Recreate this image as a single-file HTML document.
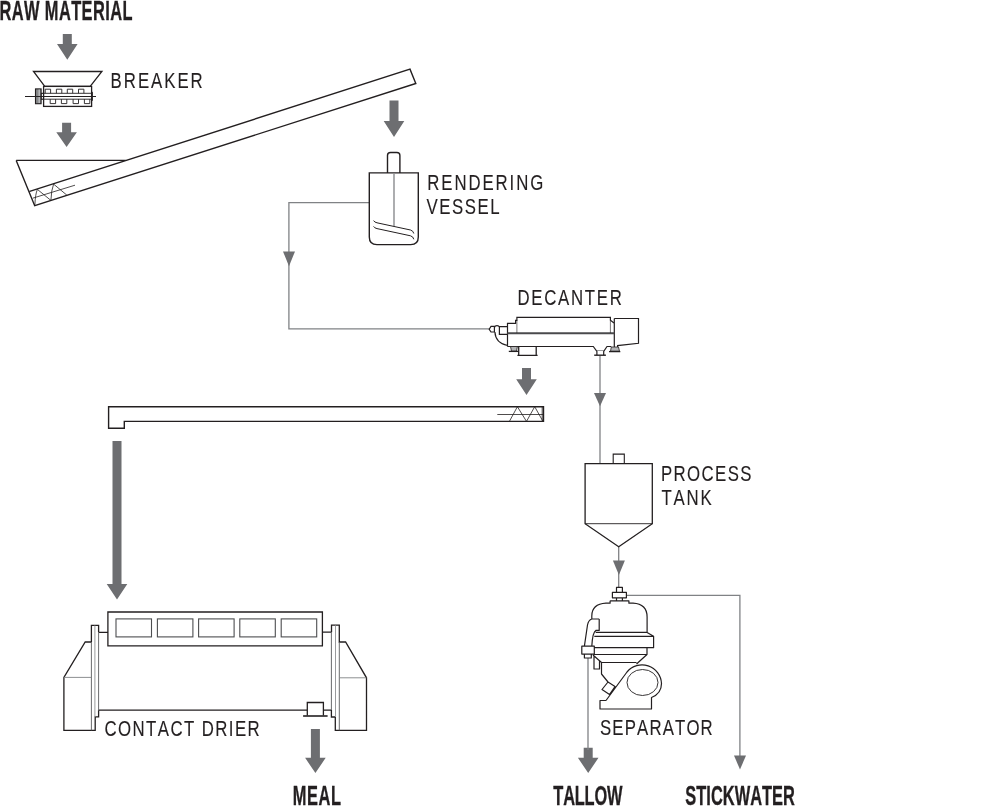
<!DOCTYPE html>
<html><head><meta charset="utf-8"><style>
html,body{margin:0;padding:0;background:#fff;}
svg{display:block;font-kerning:none;will-change:transform;font-family:"Liberation Sans",sans-serif;}
</style></head><body>
<svg width="1000" height="810" viewBox="0 0 1000 810">
<text transform="translate(-0.50 19.7) scale(0.61 1)" letter-spacing="0.669" font-size="26.9" font-weight="700" fill="#231f20" stroke="#231f20" stroke-width="0.35">RAW MATERIAL</text>
<text transform="translate(110.62 87.8) scale(0.778 1)" letter-spacing="2.537" font-size="21.6" font-weight="400" fill="#231f20" stroke="#231f20" stroke-width="0.12">BREAKER</text>
<text transform="translate(427.32 189.8) scale(0.778 1)" letter-spacing="2.426" font-size="21.6" font-weight="400" fill="#231f20" stroke="#231f20" stroke-width="0.12">RENDERING</text>
<text transform="translate(426.53 213.9) scale(0.778 1)" letter-spacing="1.965" font-size="21.6" font-weight="400" fill="#231f20" stroke="#231f20" stroke-width="0.12">VESSEL</text>
<text transform="translate(517.42 305) scale(0.778 1)" letter-spacing="2.208" font-size="21.6" font-weight="400" fill="#231f20" stroke="#231f20" stroke-width="0.12">DECANTER</text>
<text transform="translate(661.02 481) scale(0.778 1)" letter-spacing="1.772" font-size="21.6" font-weight="400" fill="#231f20" stroke="#231f20" stroke-width="0.12">PROCESS</text>
<text transform="translate(661.52 505) scale(0.778 1)" letter-spacing="2.334" font-size="21.6" font-weight="400" fill="#231f20" stroke="#231f20" stroke-width="0.12">TANK</text>
<text transform="translate(104.55 736) scale(0.778 1)" letter-spacing="1.817" font-size="21.6" font-weight="400" fill="#231f20" stroke="#231f20" stroke-width="0.12">CONTACT DRIER</text>
<text transform="translate(599.99 735.1) scale(0.778 1)" letter-spacing="1.469" font-size="21.6" font-weight="400" fill="#231f20" stroke="#231f20" stroke-width="0.12">SEPARATOR</text>
<text transform="translate(292.80 804.5) scale(0.61 1)" letter-spacing="0.992" font-size="26.9" font-weight="700" fill="#231f20" stroke="#231f20" stroke-width="0.35">MEAL</text>
<text transform="translate(553.32 804.5) scale(0.61 1)" letter-spacing="-0.318" font-size="26.9" font-weight="700" fill="#231f20" stroke="#231f20" stroke-width="0.35">TALLOW</text>
<text transform="translate(685.33 804.5) scale(0.61 1)" letter-spacing="0.041" font-size="26.9" font-weight="700" fill="#231f20" stroke="#231f20" stroke-width="0.35">STICKWATER</text>
<path d="M62.8 34.1H71.8V44H77.6L67.3 59.8L57.0 44H62.8Z" fill="#6d6e71"/>
<path d="M62.099999999999994 122.65H71.1V132.2H76.89999999999999L66.6 147L56.3 132.2H62.099999999999994Z" fill="#6d6e71"/>
<path d="M389.5 100.5H398.5V121H404.3L394 137L383.7 121H389.5Z" fill="#6d6e71"/>
<path d="M522.0 367.9H531.0V379.25H536.8L526.5 395L516.2 379.25H522.0Z" fill="#6d6e71"/>
<path d="M112.5 441.1H121.5V584.1H127.3L117 599.5L106.7 584.1H112.5Z" fill="#6d6e71"/>
<path d="M310.9 728.9H319.9V757.8H325.7L315.4 773.1L305.09999999999997 757.8H310.9Z" fill="#6d6e71"/>
<path d="M583.7 747.8H592.7V757.8H598.5L588.2 773L577.9000000000001 757.8H583.7Z" fill="#6d6e71"/>
<path d="M369.5 202.7H288.9V328.9H490" fill="none" stroke="#808285" stroke-width="1.3"/>
<path d="M283 251.4H295L289 266.3Z" fill="#6d6e71"/>
<path d="M600 356V463.7" fill="none" stroke="#808285" stroke-width="1.3"/>
<path d="M596.9 350.5H603.7" stroke="#808285" stroke-width="0.8"/>
<path d="M594 393H606L600 406.3Z" fill="#6d6e71"/>
<path d="M618.7 546.7V588" fill="none" stroke="#808285" stroke-width="1.3"/>
<path d="M612.9 560.4H624.9L618.9 575Z" fill="#6d6e71"/>
<path d="M626.4 595.3H739.9V758" fill="none" stroke="#808285" stroke-width="1.3"/>
<path d="M734 755.4H746L740 769.6Z" fill="#6d6e71"/>
<path d="M588 658V750" fill="none" stroke="#808285" stroke-width="1.3"/>
<path d="M33.5 71.5H101.9L90.2 86.3H44.75Z" fill="none" stroke="#231f20" stroke-width="1.3" stroke-linejoin="miter"/>
<rect x="43.6" y="86.4" width="48" height="20" fill="none" stroke="#231f20" stroke-width="1.3"/>
<rect x="35.5" y="88.9" width="5.6" height="14.8" fill="#858688" stroke="#231f20" stroke-width="1.1"/><path d="M39.2 89.5V103" stroke="#c4c5c7" stroke-width="1.2"/><rect x="41.2" y="93.3" width="2.4" height="5.9" fill="none" stroke="#231f20" stroke-width="0.7"/>
<path d="M25 96.5H96" stroke="#231f20" stroke-width="1"/>
<path d="M41 93.3H92M41 99.2H92" stroke="#231f20" stroke-width="0.9"/>
<path d="M45.2 93.3V89.2H50.6V93.3" fill="none" stroke="#231f20" stroke-width="0.9"/>
<path d="M56.4 93.3V89.2H61.8V93.3" fill="none" stroke="#231f20" stroke-width="0.9"/>
<path d="M67.3 93.3V89.2H72.7V93.3" fill="none" stroke="#231f20" stroke-width="0.9"/>
<path d="M78.5 93.3V89.2H83.9V93.3" fill="none" stroke="#231f20" stroke-width="0.9"/>
<path d="M50.2 99.2V103.6H55.6V99.2" fill="none" stroke="#231f20" stroke-width="0.9"/>
<path d="M61.4 99.2V103.6H66.8V99.2" fill="none" stroke="#231f20" stroke-width="0.9"/>
<path d="M73.1 99.2V103.6H78.5V99.2" fill="none" stroke="#231f20" stroke-width="0.9"/>
<path d="M84.4 99.2V103.6H89.80000000000001V99.2" fill="none" stroke="#231f20" stroke-width="0.9"/>
<path d="M91.6 92.2h0.9v8.3h-0.9" fill="none" stroke="#231f20" stroke-width="0.9"/>
<path d="M16.2 160.4H125.7" stroke="#231f20" stroke-width="1.4"/>
<path d="M16.2 160.4L34.7 205.7L415.8 83.5L410 69.2L29.7 191.4" fill="none" stroke="#231f20" stroke-width="1.4" stroke-linejoin="miter"/>
<path d="M32.7 198.2L75 185.2" stroke="#231f20" stroke-width="0.8"/>
<path d="M34.9 204.8Q35.3 194 37.4 189.4L50.9 200.4Q51.3 190 53.6 184.1L66.8 195.1" fill="none" stroke="#231f20" stroke-width="0.8"/>
<path d="M369.3 172.9H418.3V237Q418.3 244.6 410.7 244.6H376.9Q369.3 244.6 369.3 237Z" fill="none" stroke="#231f20" stroke-width="1.4"/>
<path d="M387.5 172.9V155.5Q387.5 152.5 390.5 152.5H396.9Q399.9 152.5 399.9 155.5V172.9" fill="none" stroke="#231f20" stroke-width="1.4"/>
<path d="M394 174V226" stroke="#808285" stroke-width="1.3"/>
<path d="M373.6 220.6Q374.5 222.3 377 222.8L410.5 230Q413.3 230.8 413.8 233.5" fill="none" stroke="#231f20" stroke-width="1"/>
<path d="M373.6 226.4Q374.5 228.1 377 228.6L410.5 235.8Q413.3 236.6 413.8 239.3" fill="none" stroke="#231f20" stroke-width="1"/>
<path d="M489.2 329.2L491 326.4H494.4V332H491Z M494.4 327.5Q495 325.7 497 325.7Q499 325.7 499.4 327 M494.9 332Q495.5 343 507.5 345.5 M499.4 326.6H507.5V334.3H499.4V327 M507.5 346.5V323.3H515.6V320.3H516.9V317.4H610.4V320.3L614.3 323.3 M614.3 318.5H638.5V343.3L617.6 345.6V347.8 M614.3 318.5V347.8 M507.5 346.5H593.3L596.9 351.4V355 M603.7 355V351.4L607 346.5H611.3" fill="none" stroke="#231f20" stroke-width="1.2"/>
<path d="M507.5 333.2H614.3" stroke="#4a4a4c" stroke-width="2"/>
<path d="M516.9 320.5V333 M610.4 320.5V333" stroke="#231f20" stroke-width="0.6"/>
<path d="M518.7 346.5V355M536.2 346.5V355M517.4 355.4H537.6" fill="none" stroke="#231f20" stroke-width="1.3"/>
<path d="M510.5 346.5H517.4L516.5 351.2H511.5Z" fill="#b3b4b6" stroke="#231f20" stroke-width="0.8"/>
<path d="M508.8 351.4H518.7" stroke="#231f20" stroke-width="1.3"/>
<path d="M611.3 347H618.5L619.5 351.2H610.5Z" fill="#b3b4b6" stroke="#231f20" stroke-width="0.8"/>
<path d="M609 351.6H620.3" stroke="#231f20" stroke-width="1.3"/>
<path d="M594.2 355.2H605.9" stroke="#231f20" stroke-width="1.4"/>
<path d="M108.6 406.7H543.5V421.4H124.3V428.3H108.6Z" fill="none" stroke="#231f20" stroke-width="1.4"/>
<path d="M497.3 414.5H543M542.2 407V421" stroke="#231f20" stroke-width="0.8"/>
<path d="M509.4 421.4L517.4 406.7L526.5 421.4L534.7 406.7L543 421.4" fill="none" stroke="#231f20" stroke-width="0.8"/>
<path d="M107.9 612H322.4V645.8H107.9Z M107.9 632.3H98.6 M322.4 632.2H331.5 M91.4 642V625.3H98.6V632.3 M91.4 642H85.2L63.9 677.4V730.4H95.2V716.9H98.6V710.2 M98.6 710.2H307.3 M323.4 710.2H331.4 M331.5 632.2V625.1H339.3V642H345.6L366.5 677.8V730.4H335.3V717H331.4V710 M307.3 715.5V702.5H323.4V715.5" fill="none" stroke="#231f20" stroke-width="1.3"/>
<path d="M98.6 632.3V710.2M91.4 642V730.4M331.4 632.2V710M339.3 642V730.4" stroke="#58595b" stroke-width="0.9"/>
<path d="M94.9 625.5V717M335.5 625.5V717" stroke="#9a9b9d" stroke-width="1"/>
<path d="M63.9 677.4H91.4M339.3 677.8H366.5" stroke="#808285" stroke-width="0.9"/>
<rect x="116" y="618.9" width="35.5" height="18" fill="none" stroke="#4d4e50" stroke-width="1.1"/>
<rect x="157.4" y="618.9" width="35.5" height="18" fill="none" stroke="#4d4e50" stroke-width="1.1"/>
<rect x="198.6" y="618.9" width="35.5" height="18" fill="none" stroke="#4d4e50" stroke-width="1.1"/>
<rect x="239.8" y="618.9" width="35.5" height="18" fill="none" stroke="#4d4e50" stroke-width="1.1"/>
<rect x="281.2" y="618.9" width="35.5" height="18" fill="none" stroke="#4d4e50" stroke-width="1.1"/>
<path d="M303.1 716H327.6" stroke="#231f20" stroke-width="1.6"/>
<path d="M585.1 463.7H652.3V523.7L618.7 546.7L585.1 523.7Z" fill="none" stroke="#231f20" stroke-width="1.3"/>
<path d="M585.1 523.7H652.3" stroke="#231f20" stroke-width="0.9"/>
<path d="M613.2 463.7V454.1H624.3V463.7" fill="none" stroke="#231f20" stroke-width="1.1"/>
<path d="M616.5 592.4V587.4H622.4V592.4 M612.4 592.4H626.4V597.8H612.4Z M616.5 597.8V600.8M622.4 597.8V600.8 M610.1 600.8H628.9V603.2H633Q647.1 604 647.1 617V632.4L653.6 636.3V647.7H594 M610.1 600.8V603.2H606Q591.8 604 591.8 616V618.5 M594.3 636.3H653.6 M595.7 632.4H647.1 M599.2 619V630.4H596Q592.6 632 591.8 646.2 M599.2 619H591.8Q588.5 620 587.5 625L584.4 646.2 M581.8 646.2H594.3V654.1H581.8Z M584.4 654.1V658H591.3V654.1 M647 647.5V654.5L636.5 664 M594 654.5H647 M593 655L601.5 662.5H636.5 M594 656V669H599.5V661 M601.5 663V674L608 682 M608 682L615 686.5L609.5 694.5L602 689.5Z M606 700.5L627 672 A19.5 19.5 0 0 1 661.5 683.5 Q661.5 693.5 651.5 697.5V709H600V700.5H606" fill="none" stroke="#231f20" stroke-width="1.2" stroke-linejoin="round"/>
<ellipse cx="642.5" cy="682.5" rx="15.5" ry="13" fill="none" stroke="#231f20" stroke-width="0.9"/>
</svg>
</body></html>
